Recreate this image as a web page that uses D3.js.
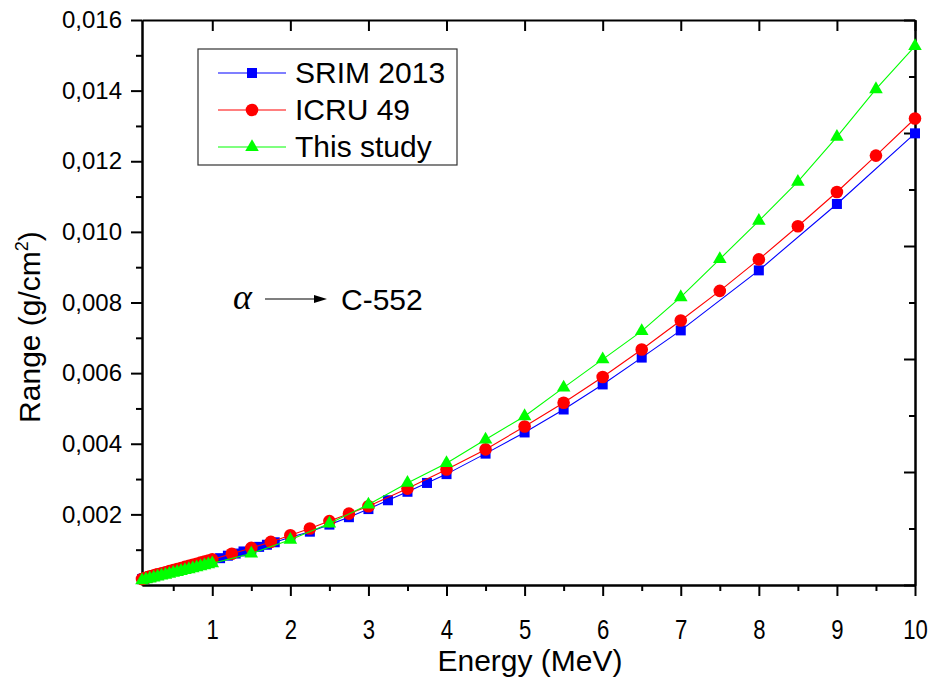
<!DOCTYPE html>
<html>
<head>
<meta charset="utf-8">
<script src="https://cdn.jsdelivr.net/npm/d3@7/dist/d3.min.js"></script>
<style>
  html, body { margin: 0; padding: 0; background: #fff; }
  svg { display: block; font-family: "Liberation Sans", Arial, sans-serif; }
</style>
</head>
<body>
<svg id="chart" width="930" height="679"></svg>
<script>
// ---------- data ----------
const srimEnergy = [0.1,0.11,0.12,0.13,0.14,0.15,0.16,0.17,0.18,0.2,0.225,0.25,0.275,0.3,0.325,0.35,0.375,0.4,0.45,0.5,0.55,0.6,0.65,0.7,0.8,0.9,
  1.0,1.1,1.2,1.3,1.4,1.5,1.6,1.7,1.8,2.0,2.25,2.5,2.75,3.0,3.25,3.5,3.75,4.0,4.5,5.0,5.5,6.0,6.5,7.0,8.0,9.0,10.0];
const srimRange = [0.000165,0.000172,0.000179,0.000186,0.000193,0.000200,0.000207,0.000213,0.000220,0.000232,0.000247,0.000262,0.000277,0.000291,0.000305,0.000319,0.000333,0.000346,0.000373,0.000400,0.000427,0.000454,0.000481,0.000508,0.000566,0.000630,
  0.000705,0.00076,0.00083,0.00089,0.00095,0.00101,0.00108,0.00114,0.00121,0.00135,0.00151,0.00171,0.00192,0.00215,0.00240,0.00264,0.00289,0.00314,0.00372,0.00432,0.00497,0.00568,0.00644,0.00721,0.00891,0.01079,0.01279];

const icruEnergy = [0.1,0.125,0.15,0.175,0.2,0.225,0.25,0.275,0.3,0.35,0.4,0.45,0.5,0.55,0.6,0.65,0.7,0.75,0.8,0.85,0.9,0.95,1.0,
  1.25,1.5,1.75,2.0,2.25,2.5,2.75,3.0,3.5,4.0,4.5,5.0,5.5,6.0,6.5,7.0,7.5,8.0,8.5,9.0,9.5,10.0];
const icruRange = [0.000170,0.000188,0.000205,0.000222,0.000238,0.000254,0.000270,0.000286,0.000301,0.000332,0.000362,0.000392,0.000422,0.000452,0.000482,0.000512,0.000542,0.000573,0.000603,0.000634,0.000665,0.000695,0.000725,
  0.000885,0.00105,0.00122,0.00141,0.00160,0.00181,0.00202,0.00223,0.00273,0.00327,0.00384,0.00449,0.00516,0.00589,0.00667,0.00749,0.00833,0.00922,0.01016,0.01113,0.01216,0.01321];

const studyEnergy = [0.1,0.15,0.2,0.25,0.3,0.35,0.4,0.45,0.5,0.55,0.6,0.65,0.7,0.75,0.8,0.85,0.9,0.95,1.0,
  1.5,2.0,2.5,3.0,3.5,4.0,4.5,5.0,5.5,6.0,6.5,7.0,7.5,8.0,8.5,9.0,9.5,10.0];
const studyRange = [0.000130,0.000158,0.000185,0.000212,0.000238,0.000264,0.000290,0.000316,0.000342,0.000368,0.000394,0.000421,0.000447,0.000474,0.000501,0.000528,0.000556,0.000584,0.000612,
  0.00089,0.00128,0.00174,0.00228,0.00289,0.00345,0.00412,0.00478,0.00559,0.00639,0.00719,0.00815,0.00923,0.01031,0.01142,0.01269,0.01404,0.01526];

const seriesNames = ["SRIM 2013", "ICRU 49", "This study"];
const seriesColors = ["#0000ff", "#ff0000", "#00ff00"];
const seriesSymbols = ["square", "circle", "triangle"];

const xMajorTicks = [1,2,3,4,5,6,7,8,9,10];
const xMinorTicks = [0.5,1.5,2.5,3.5,4.5,5.5,6.5,7.5,8.5,9.5];
const yMajorTicks = [0.002,0.004,0.006,0.008,0.010,0.012,0.014,0.016];
const yMinorTicks = [0.001,0.003,0.005,0.007,0.009,0.011,0.013,0.015];
const rightMajorTicks = [0,1,2,3,4,5];
const rightMinorTicks = [0.5,1.5,2.5,3.5,4.5];

const xTitle = "Energy (MeV)";
const yTitle = "Range (g/cm";
const annotation = "C-552";

// ---------- layout ----------
const svg = d3.select("#chart");
const mLeft = 142, mRight = 915, mTop = 20, mBottom = 585;

const x = d3.scaleLinear().domain([0.1, 10]).range([mLeft, mRight]);
const y = d3.scaleLinear().domain([0, 0.016]).range([mBottom, mTop]);
const yRight = d3.scaleLinear().domain([0, 5]).range([mBottom, mTop]);

const fmtY = v => d3.format(".3f")(v).replace(".", ",");

function styleAxis(g) {
  g.selectAll("path.domain").attr("stroke", "#000").attr("stroke-width", 2);
  g.selectAll(".tick line").attr("stroke", "#000").attr("stroke-width", 2);
  g.selectAll(".tick text").attr("fill", "#000");
}

// bottom axis
const gxMinor = svg.append("g").attr("transform", `translate(0,${mBottom})`)
  .call(d3.axisBottom(x).tickValues(xMinorTicks).tickSize(6).tickFormat("").tickSizeOuter(0));
styleAxis(gxMinor);
const gx = svg.append("g").attr("transform", `translate(0,${mBottom})`)
  .call(d3.axisBottom(x).tickValues(xMajorTicks).tickSize(11).tickPadding(24).tickSizeOuter(0));
styleAxis(gx);
gx.selectAll(".tick text").attr("font-size", 27).attr("font-family", "Liberation Sans, Arial, sans-serif")
  .attr("transform", "scale(0.82,1)");

// top axis (mirror, inward ticks)
const gtop = svg.append("g").attr("transform", `translate(0,${mTop})`)
  .call(d3.axisBottom(x).tickValues(xMajorTicks).tickSize(11).tickFormat("").tickSizeOuter(0));
styleAxis(gtop);

// left axis
const gyMinor = svg.append("g").attr("transform", `translate(${mLeft},0)`)
  .call(d3.axisLeft(y).tickValues(yMinorTicks).tickSize(6).tickFormat("").tickSizeOuter(0));
styleAxis(gyMinor);
const gy = svg.append("g").attr("transform", `translate(${mLeft},0)`)
  .call(d3.axisLeft(y).tickValues(yMajorTicks).tickSize(11).tickPadding(9).tickFormat(fmtY).tickSizeOuter(0));
styleAxis(gy);
gy.selectAll(".tick text").attr("font-size", 24).attr("font-family", "Liberation Sans, Arial, sans-serif");

// right axis (inward ticks)
const grMinor = svg.append("g").attr("transform", `translate(${mRight},0)`)
  .call(d3.axisLeft(yRight).tickValues(rightMinorTicks).tickSize(6).tickFormat("").tickSizeOuter(0));
styleAxis(grMinor);
const gr = svg.append("g").attr("transform", `translate(${mRight},0)`)
  .call(d3.axisLeft(yRight).tickValues(rightMajorTicks).tickSize(11).tickFormat("").tickSizeOuter(0));
styleAxis(gr);

// ---------- series ----------
const seriesData = [
  d3.zip(srimEnergy, srimRange),
  d3.zip(icruEnergy, icruRange),
  d3.zip(studyEnergy, studyRange)
];

const line = d3.line().x(d => x(d[0])).y(d => y(d[1]));

function drawSymbol(g, type, color, cx, cy) {
  if (type === "square") {
    g.append("rect").attr("x", cx - 5).attr("y", cy - 5).attr("width", 10).attr("height", 10).attr("fill", color);
  } else if (type === "circle") {
    g.append("circle").attr("cx", cx).attr("cy", cy).attr("r", 6.3).attr("fill", color);
  } else {
    g.append("path").attr("d", d3.symbol(d3.symbolTriangle, 80)())
      .attr("transform", `translate(${cx},${cy})`).attr("fill", color);
  }
}

const plot = svg.append("g");
seriesData.forEach((data, i) => {
  const g = plot.append("g");
  g.append("path").datum(data).attr("d", line)
    .attr("fill", "none").attr("stroke", seriesColors[i]).attr("stroke-width", 1.1);
  data.forEach(d => drawSymbol(g, seriesSymbols[i], seriesColors[i], x(d[0]), y(d[1])));
});

// ---------- titles ----------
svg.append("text").attr("x", 530).attr("y", 671).attr("text-anchor", "middle")
  .attr("font-size", 30).attr("fill", "#000").text(xTitle);

const yt = svg.append("text").attr("transform", "translate(40,327) rotate(-90)")
  .attr("text-anchor", "middle").attr("font-size", 30).attr("fill", "#000");
yt.append("tspan").text(yTitle);
yt.append("tspan").attr("font-size", 18).attr("dy", -12).text("2");
yt.append("tspan").attr("dy", 12).text(")");

// ---------- legend ----------
const lg = svg.append("g");
lg.append("rect").attr("x", 198).attr("y", 49).attr("width", 259).attr("height", 116)
  .attr("fill", "#fff").attr("stroke", "#333").attr("stroke-width", 1.2);
const legendRows = [73, 110, 147];
seriesNames.forEach((name, i) => {
  const ry = legendRows[i];
  lg.append("line").attr("x1", 218).attr("x2", 286).attr("y1", ry).attr("y2", ry)
    .attr("stroke", seriesColors[i]).attr("stroke-width", 1.1);
  drawSymbol(lg, seriesSymbols[i], seriesColors[i], 252, ry);
  lg.append("text").attr("x", 295).attr("y", ry + 10).attr("font-size", 30).attr("fill", "#000").text(name);
});

// ---------- annotation ----------
svg.append("text").attr("x", 233).attr("y", 309).attr("font-size", 36)
  .attr("font-family", "Liberation Serif, Times New Roman, serif").attr("font-style", "italic")
  .attr("fill", "#000").text("α");
svg.append("line").attr("x1", 265).attr("x2", 316).attr("y1", 299).attr("y2", 299)
  .attr("stroke", "#000").attr("stroke-width", 1.2);
svg.append("path").attr("d", "M314,295 L327,299 L314,303 Z").attr("fill", "#000");
svg.append("text").attr("x", 341).attr("y", 310).attr("font-size", 30).attr("fill", "#000").text(annotation);
</script>
</body>
</html>
